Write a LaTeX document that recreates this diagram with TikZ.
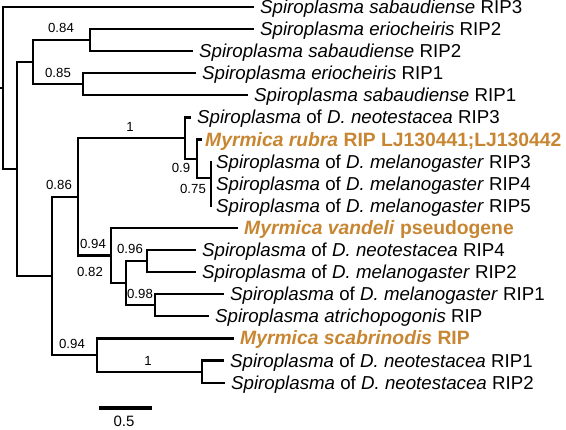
\documentclass[tikz,border=0pt]{standalone}
\usepackage{fontspec}
\setmainfont{Liberation Sans}
\definecolor{myr}{RGB}{200,134,50}
\begin{document}
\begin{tikzpicture}[x=1pt,y=-1pt,
  br/.style={line width=2.2pt, line cap=rect},
  lf/.style={anchor=west, inner xsep=7pt, inner ysep=0pt, text height=13pt, text depth=0pt, font=\fontsize{18.7}{20}\selectfont},
  my/.style={lf, text=myr, font=\fontsize{19.3}{20}\selectfont\bfseries},
  bs/.style={font=\fontsize{13.2}{15}\selectfont, inner sep=0pt}]
\useasboundingbox (0,0) rectangle (566,430);
% leaf tips
\coordinate (t1) at (253,7);
\coordinate (t2) at (253,29.1);
\coordinate (t3) at (192,51.2);
\coordinate (t4) at (195,73.3);
\coordinate (t5) at (247,95.4);
\coordinate (t6) at (190,117.5);
\coordinate (t7) at (201,139.6);
\coordinate (t8) at (211,161.7);
\coordinate (t9) at (211,183.8);
\coordinate (t10) at (211,205.9);
\coordinate (t11) at (237,228);
\coordinate (t12) at (195,250.1);
\coordinate (t13) at (195,272.2);
\coordinate (t14) at (223,294.3);
\coordinate (t15) at (208,316.4);
\coordinate (t16) at (233,338.5);
\coordinate (t17) at (223,360.6);
\coordinate (t18) at (224,382.7);
% internal nodes
\coordinate (r0) at (0,88.05);
\coordinate (root) at (3,88.05);
\coordinate (nM) at (17,169.1);
\coordinate (nS) at (33,62.25);
\coordinate (n084) at (90,40.15);
\coordinate (n085) at (83,84.35);
\coordinate (nL) at (52,276);
\coordinate (n086) at (78,196.9);
\coordinate (nA) at (185,138.2);
\coordinate (nB) at (197,158.9);
\coordinate (nC) at (211,178.3);
\coordinate (nD) at (211,194.85);
\coordinate (n094a) at (111,255.6);
\coordinate (n082) at (126,283.25);
\coordinate (n096) at (147,261.15);
\coordinate (n098) at (155,305.35);
\coordinate (n094b) at (97,355.1);
\coordinate (n1b) at (202,371.65);
% branches
\draw[br] (r0) -- (root);
\draw[br] (root) |- (t1); \draw[br] (root) |- (nM);
\draw[br] (nM) |- (nS); \draw[br] (nM) |- (nL);
\draw[br] (nS) |- (n084); \draw[br] (nS) |- (n085);
\draw[br] (n084) |- (t2); \draw[br] (n084) |- (t3);
\draw[br] (n085) |- (t4); \draw[br] (n085) |- (t5);
\draw[br] (nL) |- (n086); \draw[br] (nL) |- (n094b);
\draw[br] (n086) |- (nA); \draw[br] (n086) |- (n094a);
\draw[br] (nA) |- (t6); \draw[br] (nA) |- (nB);
\draw[br] (nB) |- (t7); \draw[br] (nB) |- (nC);
\draw[br] (nC) |- (t8); \draw[br] (nC) |- (nD);
\draw[br] (nD) |- (t9); \draw[br] (nD) |- (t10);
\draw[br] (n094a) |- (t11); \draw[br] (n094a) |- (n082);
\draw[br] (n082) |- (n096); \draw[br] (n082) |- (n098);
\draw[br] (n096) |- (t12); \draw[br] (n096) |- (t13);
\draw[br] (n098) |- (t14); \draw[br] (n098) |- (t15);
\draw[br] (n094b) |- (t16); \draw[br] (n094b) |- (n1b);
\draw[br] (n1b) |- (t17); \draw[br] (n1b) |- (t18);
% leaf labels
\node[lf] (l1) at (t1) {\textit{Spiroplasma sabaudiense} RIP3};
\node[lf] (l2) at (t2) {\textit{Spiroplasma eriocheiris} RIP2};
\node[lf] (l3) at (t3) {\textit{Spiroplasma sabaudiense} RIP2};
\node[lf] (l4) at (t4) {\textit{Spiroplasma eriocheiris} RIP1};
\node[lf] (l5) at (t5) {\textit{Spiroplasma sabaudiense} RIP1};
\node[lf] (l6) at (t6) {\textit{Spiroplasma} of \textit{D. neotestacea} RIP3};
\node[my, inner xsep=4pt] (l7) at (t7) {\textit{Myrmica rubra} RIP LJ130441;LJ130442};
\node[lf, inner xsep=5pt] (l8) at (t8) {\textit{Spiroplasma} of \textit{D. melanogaster} RIP3};
\node[lf, inner xsep=5pt] (l9) at (t9) {\textit{Spiroplasma} of \textit{D. melanogaster} RIP4};
\node[lf, inner xsep=5pt] (l10) at (t10) {\textit{Spiroplasma} of \textit{D. melanogaster} RIP5};
\node[my] (l11) at (t11) {\textit{Myrmica vandeli} pseudogene};
\node[lf] (l12) at (t12) {\textit{Spiroplasma} of \textit{D. neotestacea} RIP4};
\node[lf] (l13) at (t13) {\textit{Spiroplasma} of \textit{D. melanogaster} RIP2};
\node[lf] (l14) at (t14) {\textit{Spiroplasma} of \textit{D. melanogaster} RIP1};
\node[lf] (l15) at (t15) {\textit{Spiroplasma atrichopogonis} RIP};
\node[my] (l16) at (t16) {\textit{Myrmica scabrinodis} RIP};
\node[lf] (l17) at (t17) {\textit{Spiroplasma} of \textit{D. neotestacea} RIP1};
\node[lf] (l18) at (t18) {\textit{Spiroplasma} of \textit{D. neotestacea} RIP2};
% support values
\node[bs] (s1) at (61,28) {0.84};
\node[bs] (s2) at (58,73) {0.85};
\node[bs] (s3) at (130,127) {1};
\node[bs] (s4) at (59,185) {0.86};
\node[bs] (s5) at (181,168) {0.9};
\node[bs] (s6) at (193,189) {0.75};
\node[bs] (s7) at (93,244) {0.94};
\node[bs] (s8) at (130,249) {0.96};
\node[bs] (s9) at (90,272) {0.82};
\node[bs] (s10) at (140,294) {0.98};
\node[bs] (s11) at (72,344) {0.94};
\node[bs] (s12) at (148,361) {1};
% scale bar
\coordinate (sb1) at (99,408);
\coordinate (sb2) at (152,408);
\draw[line width=3.4pt] (sb1) -- (sb2);
\node[font=\fontsize{15}{17}\selectfont, inner sep=0pt] (sbl) at (124,421.5) {0.5};
\end{tikzpicture}
\end{document}
